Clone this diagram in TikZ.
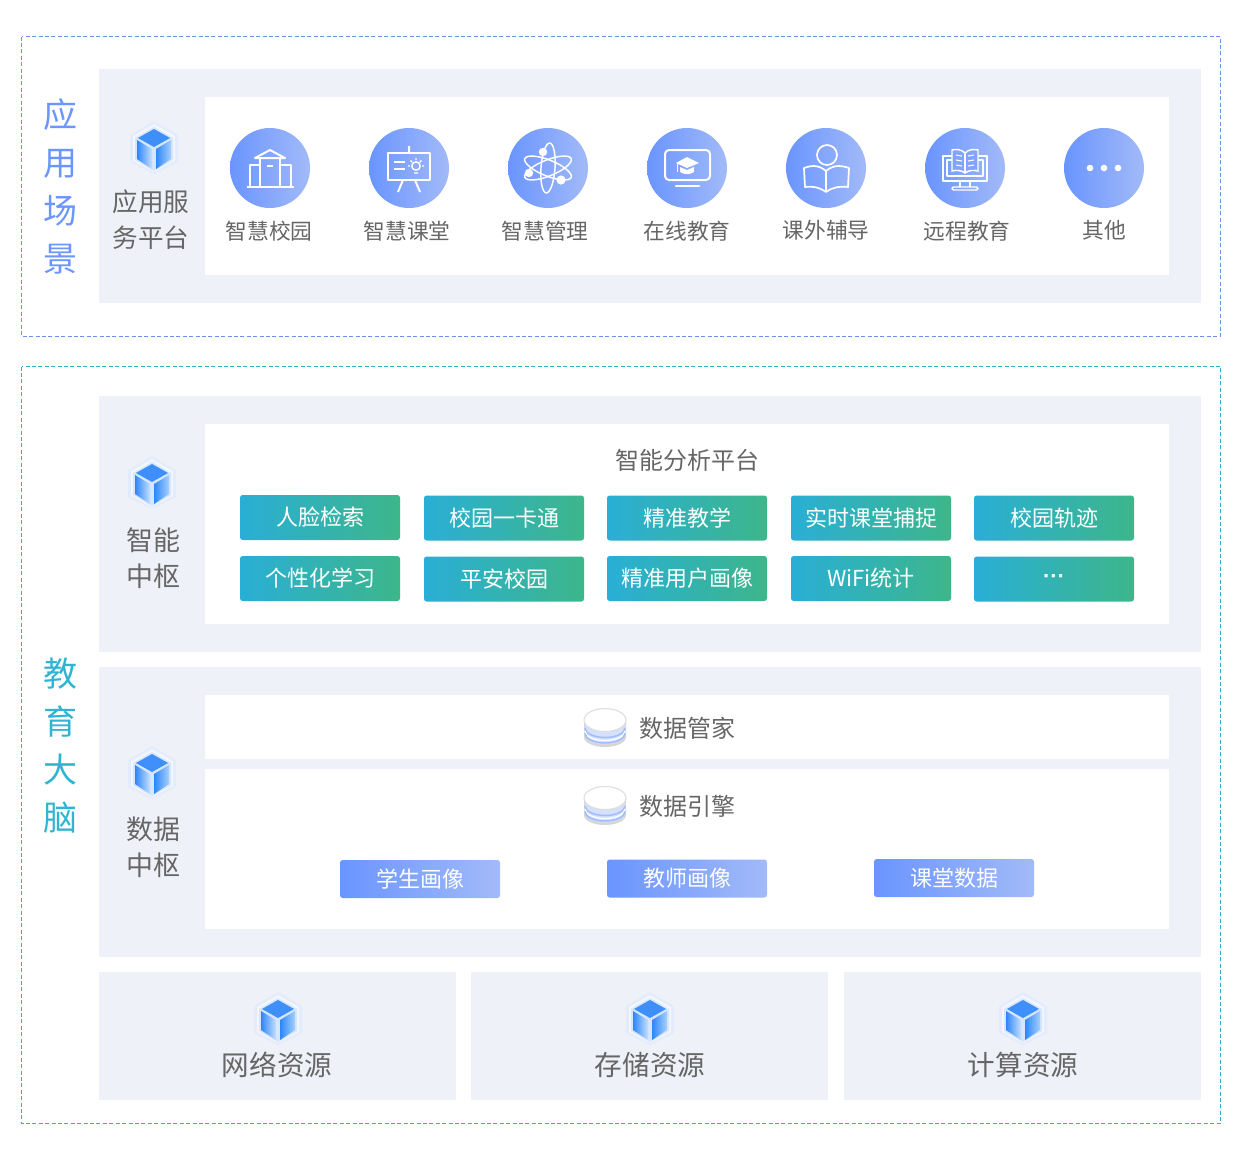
\documentclass[tikz,border=0pt]{standalone}
\usepackage{fontspec}
\setmainfont{Noto Sans CJK SC}
\newfontfamily\latinfont{Liberation Sans}
\usepackage{xcolor}
\usepackage{tikz}
\usetikzlibrary{positioning,shapes.geometric}

\definecolor{panelbg}{HTML}{EEF1F8}
\definecolor{txtgray}{HTML}{666666}
\definecolor{lineblue}{HTML}{6C94EE}
\definecolor{lineteal}{HTML}{2FB2C8}
\definecolor{titleblue}{HTML}{6B96FF}
\definecolor{titleteal}{HTML}{31B4D2}
\definecolor{iconl}{HTML}{6A95FF}
\definecolor{iconr}{HTML}{A2BAF8}
\definecolor{chipl}{HTML}{29AFD6}
\definecolor{chipr}{HTML}{3DB68A}
\definecolor{cubetop}{HTML}{3F8FFA}
\definecolor{cubelt}{HTML}{C4E0FF}
\definecolor{cubemid}{HTML}{2E86FA}
\definecolor{cubert}{HTML}{A5D0FF}
\definecolor{halo}{HTML}{E4ECFB}
\definecolor{haloin}{HTML}{F2F6FE}
\definecolor{cubeedge}{HTML}{D6E6FC}
\definecolor{dbgray}{HTML}{D6D6D6}
\definecolor{dbedge}{HTML}{DEDEDE}
\definecolor{dbpale}{HTML}{D4E0FC}
\definecolor{dbline}{HTML}{A0BCFA}

\tikzset{
  panel/.style={fill=panelbg},
  sheet/.style={fill=white},
  frame/.style={dashed, dash pattern=on 3pt off 1.8pt, line width=.7pt},
  circ/.style={circle, minimum size=60pt, inner sep=0pt, left color=iconl, right color=iconr},
  lbl/.style={text=txtgray, font=\fontsize{16.3}{20}\selectfont, inner sep=0pt},
  side/.style={text=txtgray, align=center, inner sep=0pt, font=\fontsize{20.2}{27}\selectfont},
  title/.style={align=center, inner sep=0pt, font=\fontsize{25.5}{36}\selectfont},
  chip/.style={rounded corners=2pt, minimum width=120pt, minimum height=33.75pt, inner sep=0pt,
               left color=chipl, right color=chipr, text=white, font=\fontsize{16.5}{20}\selectfont},
  bluechip/.style={rounded corners=2pt, minimum width=120pt, minimum height=28.5pt, inner sep=0pt,
               left color=iconl, right color=iconr, text=white, font=\fontsize{16.5}{20}\selectfont},
  ico/.style={draw=white, line width=1.5pt, line join=round},
  icothin/.style={draw=white, line width=1.1pt, line join=round},
  hexcube/.pic={
    \fill[halo] (0,-27) -- (24,-13) -- (24,14) -- (0,26) -- (-24,14) -- (-24,-13) -- cycle;
    \fill[haloin] (0,-24) -- (21,-12) -- (21,13) -- (0,24) -- (-21,13) -- (-21,-12) -- cycle;
    \fill[cubeedge] (0,-21) -- (19,-10) -- (19,12) -- (0,23) -- (-19,12) -- (-19,-10) -- cycle;
    \fill[cubetop] (0,-19) -- (16,-10) -- (0,-1) -- (-16,-10) -- cycle;
    \shade[left color=cubemid, right color=cubelt]
      (-17,-8) -- (-2,1) -- (-2,21) -- (-17,11) -- cycle;
    \shade[left color=cubemid, right color=cubert]
      (17,-8) -- (2,1) -- (2,21) -- (17,11) -- cycle;
  },
  dbstack/.pic={
    \fill[dbgray] (-21,-8) -- (-21,9) arc[x radius=21, y radius=10, start angle=180, end angle=0] -- (21,-8) -- cycle;
    \fill[dbpale] (-20,-6) -- (-20,7) arc[x radius=20, y radius=9.5, start angle=180, end angle=0] -- (20,-6) -- cycle;
    \draw[dbline, line width=1.1pt] (-20,0) arc[x radius=20, y radius=9.5, start angle=180, end angle=0];
    \draw[white, line width=.9pt] (-20,3) arc[x radius=20, y radius=9.5, start angle=180, end angle=0];
    \draw[dbline, line width=1.1pt] (-20,5.5) arc[x radius=20, y radius=9.5, start angle=180, end angle=0];
    \fill[white, draw=dbedge, line width=.8pt] (0,-8) ellipse[x radius=21, y radius=11.5];
  }
}

\begin{document}
\begin{tikzpicture}[x=.75pt, y=-.75pt]
\useasboundingbox (0,0) rectangle (1242,1158);

% outer frames
\draw[frame, lineblue] (21.5,36.5) rectangle (1220.5,336);
\draw[frame, lineteal] (21.5,366.5) rectangle (1220.5,1123.5);

% panels
\fill[panel] (99,69) rectangle (1201,303);
\fill[sheet] (205,97) rectangle (1169,275);
\fill[panel] (99,396) rectangle (1201,652);
\fill[sheet] (205,424) rectangle (1169,624);
\fill[panel] (99,667) rectangle (1201,957);
\fill[sheet] (205,695) rectangle (1169,759);
\fill[sheet] (205,769) rectangle (1169,929);
\fill[panel] (99,972) rectangle (456,1100);
\fill[panel] (471,972) rectangle (828,1100);
\fill[panel] (844,972) rectangle (1201,1100);

% side titles
\node[title, text=titleblue] (scene) at (60,186) {应\\用\\场\\景};
\node[title, text=titleteal] (brain) at (60,746) {教\\育\\大\\脑};

% cubes and their labels
\pic at (154,148) {hexcube};
\node[side, font=\fontsize{19.2}{27}\selectfont] (appsvc) at (151,220) {应用服\\务平台};
\pic at (152,483) {hexcube};
\node[side] (smart) at (153,558) {智能\\中枢};
\pic at (152,773) {hexcube};
\node[side] (datahub) at (153,847) {数据\\中枢};
\pic at (278,1019) {hexcube};
\node[side, font=\fontsize{20.7}{27}\selectfont] (network) at (277,1065) {网络资源};
\pic at (650,1019) {hexcube};
\node[side, font=\fontsize{20.7}{27}\selectfont] (storage) at (650,1065) {存储资源};
\pic at (1023,1019) {hexcube};
\node[side, font=\fontsize{20.7}{27}\selectfont] (compute) at (1023,1065) {计算资源};

% application icons
\node[circ] (campus) at (270,168) {};
\node[circ] (room) at (409,168) {};
\node[circ] (manage) at (548,168) {};
\node[circ] (online) at (687,168) {};
\node[circ] (tutor) at (826,168) {};
\node[circ] (remote) at (965,168) {};
\node[circ] (other) at (1104,168) {};
\node[lbl] (campustxt) at (269,231) {智慧校园};
\node[lbl] (roomtxt) at (407,231) {智慧课堂};
\node[lbl] (managetxt) at (545,231) {智慧管理};
\node[lbl] (onlinetxt) at (687,231) {在线教育};
\node[lbl] (tutortxt) at (826,230) {课外辅导};
\node[lbl] (remotetxt) at (967,231) {远程教育};
\node[lbl] (othertxt) at (1104,230) {其他};

% campus
\begin{scope}[shift={(270,168)}]
  \draw[ico] (-23,19) -- (24,19);
  \draw[ico] (-15,-10) -- (0,-18) -- (15,-10) -- cycle;
  \draw[ico] (-10,19) -- (-10,-9) (10,-9) -- (10,19);
  \draw[ico] (-10,-3) -- (-20,-3) -- (-20,19) (10,-3) -- (21,-3) -- (21,19);
  \draw[icothin] (-3,-2) -- (3,-2);
\end{scope}
% classroom
\begin{scope}[shift={(409,168)}]
  \draw[ico] (-21,-15) rectangle (21,12);
  \draw[ico] (0,-22) -- (0,-15) (-6,12) -- (-11,24) (6,12) -- (11,24);
  \draw[ico] (-15,-6) -- (-4,-6) (-15,1) -- (-4,1);
  \draw[icothin] (7,-2) circle (4.2) (5,5) -- (9,5);
  \draw[icothin] (7,-10) -- (7,-8) (-1,-2) -- (1,-2) (13,-2) -- (15,-2) (1.5,-7.5) -- (3,-6) (12.5,-7.5) -- (11,-6);
\end{scope}
% atom
\begin{scope}[shift={(548,168)}]
  \draw[icothin] (0,0) ellipse[x radius=7, y radius=25, rotate=-4];
  \draw[icothin] (0,0) ellipse[x radius=25, y radius=8, rotate=22];
  \draw[icothin] (0,0) ellipse[x radius=25, y radius=8, rotate=-22];
  \fill[white] (-5,-16) circle (4.2) (-19,5) circle (4.2) (13,12) circle (4.6);
\end{scope}
% online
\begin{scope}[shift={(687,168)}]
  \draw[ico, rounded corners=3pt] (-22,-18) rectangle (23,12);
  \draw[ico, line cap=round, line width=2pt] (-11,18) -- (12,18);
  \fill[white] (0,-11) -- (12,-5) -- (0,0) -- (-11,-5) -- cycle;
  \fill[white] (-7,-1) -- (0,2) -- (7,-1) -- (7,3) arc[x radius=7, y radius=3, start angle=0, end angle=180] -- cycle;
  \draw[white, line width=.6pt] (-10,-5) -- (-10,4);
\end{scope}
% tutoring
\begin{scope}[shift={(826,168)}]
  \draw[ico, line width=1.3pt] (1,-13) circle (10);
  \draw[ico, line width=1.3pt] (0,3) .. controls (-7,-3) and (-14,-3) .. (-22,0) -- (-21,19) .. controls (-14,18) and (-7,19) .. (0,24)
    .. controls (7,19) and (14,18) .. (22,19) -- (23,0) .. controls (14,-3) and (7,-3) .. (0,3) -- cycle;
  \draw[ico, line width=1.3pt] (0,3) -- (0,24);
\end{scope}
% remote
\begin{scope}[shift={(965,168)}]
  \draw[icothin] (-13,-12) -- (-22,-12) -- (-22,13) -- (22,13) -- (22,-12) -- (13,-12);
  \draw[icothin] (-13,-8) -- (-18,-8) -- (-18,8) -- (18,8) -- (18,-8) -- (13,-8);
  \draw[icothin] (-5,13) -- (-5,19) (5,13) -- (5,19);
  \draw[icothin, rounded corners=1pt] (-13,19) rectangle (13,22);
  \fill[iconl!60!iconr, draw=white, line width=1.1pt] (0,-15) .. controls (-4,-19) and (-9,-19) .. (-13,-18) -- (-13,3) .. controls (-9,2) and (-4,2) .. (0,5)
    .. controls (4,2) and (9,2) .. (13,3) -- (13,-18) .. controls (9,-19) and (4,-19) .. (0,-15) -- cycle;
  \draw[icothin] (0,-15) -- (0,5);
  \draw[white, line width=.8pt] (-9,-13) -- (-3,-12) (-9,-8) -- (-3,-7) (-9,-3) -- (-3,-2) (3,-12) -- (9,-13) (3,-7) -- (9,-8) (3,-2) -- (9,-3);
\end{scope}
% dots
\fill[white] (1090,168) circle (3.3) (1104,168) circle (3.3) (1118,168) circle (3.3);

% analysis platform
\node[lbl, font=\fontsize{18}{22}\selectfont] (platform) at (687.5,460.5) {智能分析平台};
\node[chip] (face) at (320,517.5) {人脸检索};
\node[chip] (card) at (504,518) {校园一卡通};
\node[chip] (teach) at (687,518) {精准教学};
\node[chip] (capture) at (871,518) {实时课堂捕捉};
\node[chip] (track) at (1054,518) {校园轨迹};
\node[chip] (person) at (320,578.5) {个性化学习};
\node[chip] (safe) at (504,579) {平安校园};
\node[chip] (portrait) at (687,578.5) {精准用户画像};
\node[chip] (wifi) at (871,578.5) {WiFi统计};
\node[chip, font=\latinfont\bfseries\fontsize{16.5}{20}\selectfont] (more) at (1054,579) {\raisebox{-1.5pt}{···}};

% data hub
\pic at (605,728) {dbstack};
\node[lbl, font=\fontsize{18}{22}\selectfont] (steward) at (687.5,728) {数据管家};
\pic at (605,806) {dbstack};
\node[lbl, font=\fontsize{18}{22}\selectfont] (engine) at (687.5,806) {数据引擎};
\node[bluechip] (student) at (420,879) {学生画像};
\node[bluechip] (teacher) at (687,878.5) {教师画像};
\node[bluechip] (lesson) at (954,878) {课堂数据};
\end{tikzpicture}
\end{document}
